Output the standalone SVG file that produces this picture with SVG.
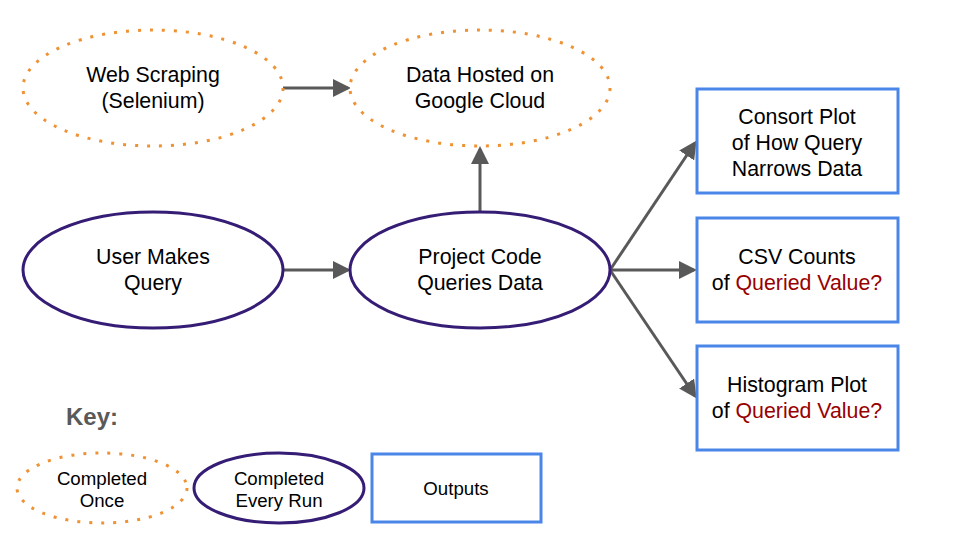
<svg xmlns="http://www.w3.org/2000/svg" width="960" height="540" viewBox="0 0 960 540">
<defs>
<style>
.once{fill:#fff;stroke:#ee9234;stroke-width:3;stroke-dasharray:3 9}
.every{fill:#fff;stroke:#351c75;stroke-width:3}
.out{fill:#fff;stroke:#4a86e8;stroke-width:3}
.t{font-family:"Liberation Sans",Arial,sans-serif;font-size:21.33px;fill:#000;text-anchor:middle}
.k{font-family:"Liberation Sans",Arial,sans-serif;font-size:18.67px;fill:#000;text-anchor:middle}
.red{fill:#990000}
.conn{stroke:#595959;stroke-width:3;fill:none;marker-end:url(#ah)}
</style>
<marker id="ah" markerWidth="6" markerHeight="6" refX="5" refY="3" orient="auto" markerUnits="strokeWidth" viewBox="0 0 6 6">
<path d="M0,0 L6,3 L0,6 z" fill="#595959"/>
</marker>
</defs>
<rect width="960" height="540" fill="#fff"/>
<g id="connectors">
<line class="conn" x1="283" y1="88" x2="348" y2="88"/>
<line class="conn" x1="480" y1="211" x2="480" y2="149"/>
<line class="conn" x1="283" y1="270" x2="348" y2="270"/>
<line class="conn" x1="610" y1="270" x2="695" y2="143"/>
<line class="conn" x1="610" y1="270" x2="694" y2="270"/>
<line class="conn" x1="610" y1="270" x2="695" y2="396"/>
</g>
<g id="web-scraping">
<ellipse class="once" cx="153" cy="88" rx="130" ry="58"/>
<text class="t" x="153" y="82">Web Scraping</text>
<text class="t" x="153" y="108">(Selenium)</text>
</g>
<g id="data-hosted">
<ellipse class="once" cx="480" cy="88" rx="130" ry="58"/>
<text class="t" x="480" y="82">Data Hosted on</text>
<text class="t" x="480" y="108">Google Cloud</text>
</g>
<g id="user-query">
<ellipse class="every" cx="153" cy="270" rx="130" ry="58"/>
<text class="t" x="153" y="264">User Makes</text>
<text class="t" x="153" y="290">Query</text>
</g>
<g id="project-code">
<ellipse class="every" cx="480" cy="270" rx="130" ry="58"/>
<text class="t" x="480" y="264">Project Code</text>
<text class="t" x="480" y="290">Queries Data</text>
</g>
<g id="consort">
<rect class="out" x="697" y="89" width="201" height="104"/>
<text class="t" x="797" y="124">Consort Plot</text>
<text class="t" x="797" y="150">of How Query</text>
<text class="t" x="797" y="176">Narrows Data</text>
</g>
<g id="csv">
<rect class="out" x="697" y="218" width="201" height="104"/>
<text class="t" x="797" y="264">CSV Counts</text>
<text class="t" x="797" y="290">of <tspan class="red">Queried Value?</tspan></text>
</g>
<g id="histogram">
<rect class="out" x="697" y="346" width="201" height="104"/>
<text class="t" x="797" y="392">Histogram Plot</text>
<text class="t" x="797" y="418">of <tspan class="red">Queried Value?</tspan></text>
</g>
<g id="key">
<text x="66" y="425" font-family="Liberation Sans,Arial,sans-serif" font-size="24" font-weight="bold" fill="#595959">Key:</text>
</g>
<g id="key-once">
<ellipse class="once" cx="102" cy="488" rx="85" ry="35"/>
<text class="k" x="102" y="485">Completed</text>
<text class="k" x="102" y="507">Once</text>
</g>
<g id="key-every">
<ellipse class="every" cx="279" cy="488" rx="85" ry="35"/>
<text class="k" x="279" y="485">Completed</text>
<text class="k" x="279" y="507">Every Run</text>
</g>
<g id="key-outputs">
<rect class="out" x="372" y="454" width="169" height="68"/>
<text class="k" x="456" y="495">Outputs</text>
</g>
</svg>
